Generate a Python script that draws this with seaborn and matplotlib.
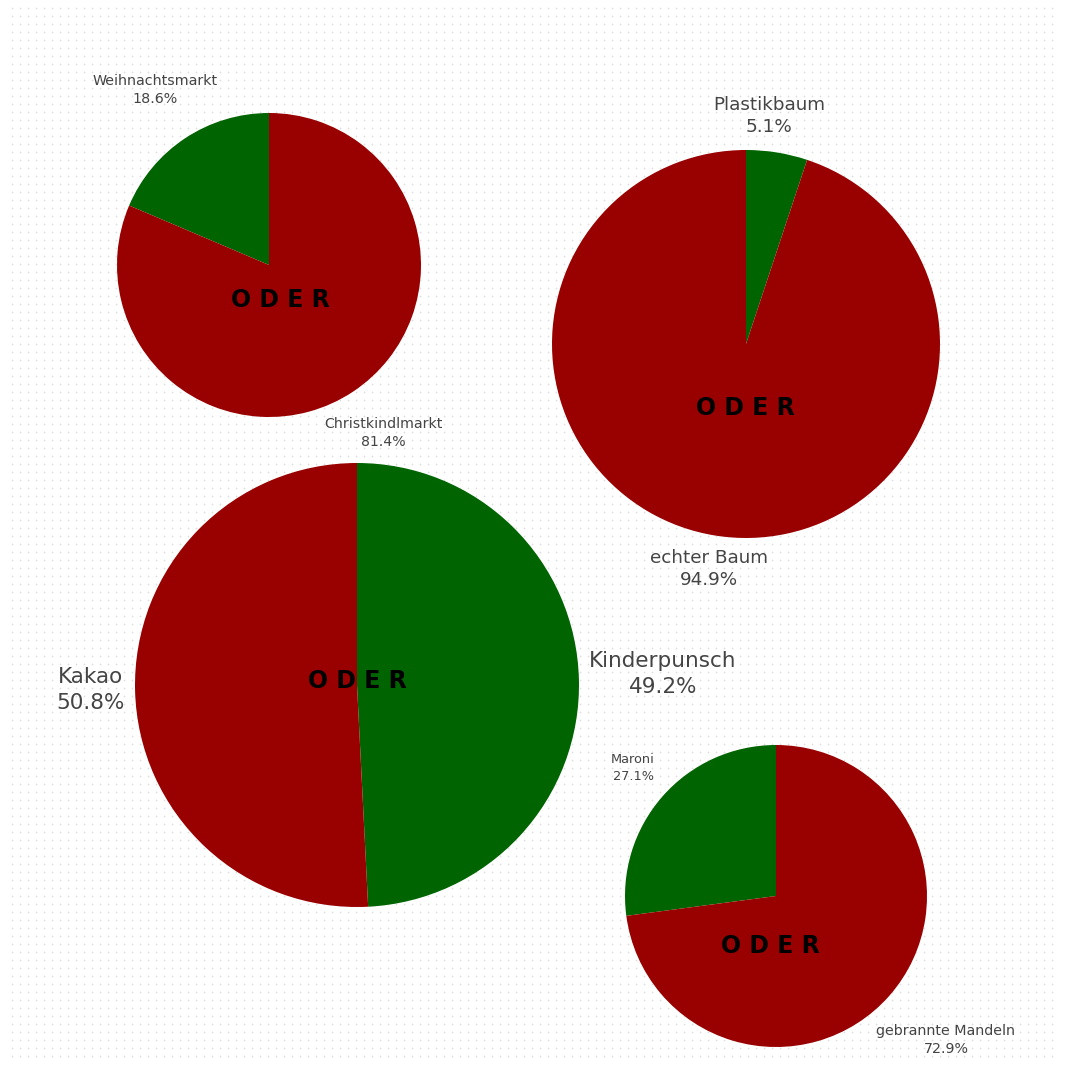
import numpy as np
import matplotlib
matplotlib.use("Agg")
import matplotlib.pyplot as plt
import seaborn as sns

sns.set_theme(style="white")
plt.rcParams['font.family'] = ['DejaVu Sans']

# ---- data ----
pie_names = ["markt", "baum", "getraenk", "snack"]
green_labels = ["Weihnachtsmarkt", "Plastikbaum", "Kinderpunsch", "Maroni"]
red_labels = ["Christkindlmarkt", "echter Baum", "Kakao", "gebrannte Mandeln"]
green_values = [18.6, 5.1, 49.2, 27.1]
red_values = [81.4, 94.9, 50.8, 72.9]

# ---- layout (pixels in a 1066 x 1066 canvas) ----
W = 1066
GREEN = "#006400"
RED = "#990000"
TEXT = "#444444"

layout = {
    "markt":    dict(c=(269, 265), r=152, ccw=True,
                     g_pos=(155, 90), g_fs=10.3, r_pos=(383, 433), r_fs=10.2, oder=(280, 300), oder_fs=17),
    "baum":     dict(c=(746, 344), r=194, ccw=False,
                     g_pos=(769, 116), g_fs=13.2, r_pos=(709, 569), r_fs=13.2, oder=(745, 408), oder_fs=17),
    "getraenk": dict(c=(357, 685), r=222, ccw=False,
                     g_pos=(663, 674), g_fs=15.5, r_pos=(90, 690), r_fs=15.5, oder=(357, 681), oder_fs=17),
    "snack":    dict(c=(776, 896), r=151, ccw=True,
                     g_pos=(633, 768), g_fs=9.3, r_pos=(946, 1040), r_fs=10.3, oder=(770, 946), oder_fs=17),
}

fig = plt.figure(figsize=(W / 100, W / 100), dpi=100)
fig.patch.set_facecolor("white")

# faint dotted background
bg = fig.add_axes([0, 0, 1, 1])
bg.set_xlim(0, W)
bg.set_ylim(W, 0)
bg.axis("off")
gx, gy = np.meshgrid(np.arange(12, 1056, 8), np.arange(8, 1062, 8))
bg.scatter(gx.ravel(), gy.ravel(), s=1.6, color="#dedede", linewidths=0, zorder=0)

for name, g, rv, gl, rl in zip(pie_names, green_values, red_values, green_labels, red_labels):
    L = layout[name]
    cx, cy = L["c"]
    r = L["r"]
    ax = fig.add_axes([(cx - r) / W, (W - cy - r) / W, 2 * r / W, 2 * r / W])
    ax.pie([g, rv], colors=[GREEN, RED], startangle=90, counterclock=L["ccw"],
           radius=1, wedgeprops=dict(linewidth=0))
    ax.set_xlim(-1.0, 1.0)
    ax.set_ylim(-1.0, 1.0)
    ax.set_aspect("equal")
    ax.axis("off")

    fig.text(L["g_pos"][0] / W, 1 - L["g_pos"][1] / W, f"{gl}\n{g:.1f}%",
             ha="center", va="center", fontsize=L["g_fs"], color=TEXT, linespacing=1.35)
    fig.text(L["r_pos"][0] / W, 1 - L["r_pos"][1] / W, f"{rl}\n{rv:.1f}%",
             ha="center", va="center", fontsize=L["r_fs"], color=TEXT, linespacing=1.35)
    fig.text(L["oder"][0] / W, 1 - L["oder"][1] / W, "O D E R",
             ha="center", va="center", fontsize=L["oder_fs"], color="black", fontweight="bold")

fig.savefig("out.png", dpi=100, facecolor="white")
